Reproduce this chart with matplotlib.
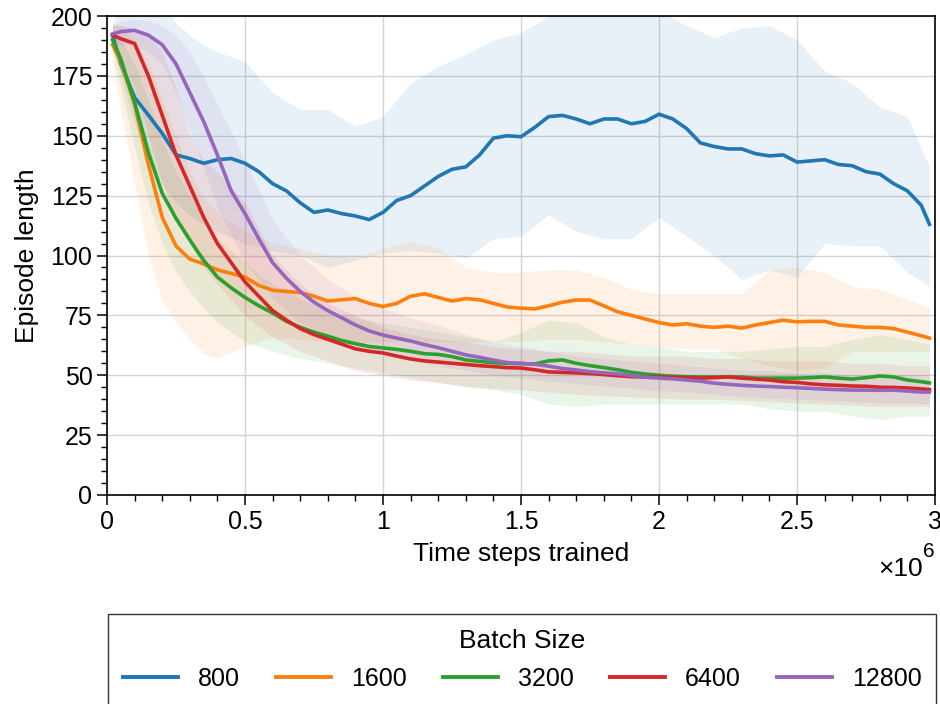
import matplotlib
matplotlib.use("Agg")
import matplotlib.pyplot as plt
import numpy as np
from matplotlib.patches import Rectangle
from matplotlib.ticker import FuncFormatter, MultipleLocator, AutoMinorLocator

plt.rcParams.update({"font.family": ["Liberation Sans", "DejaVu Sans"], "font.size": 18,
                     "mathtext.fontset": "custom", "mathtext.rm": "Liberation Sans",
                     "mathtext.it": "Liberation Sans"})

# ---- data (time steps in millions) ----
steps = [0.02, 0.05, 0.10, 0.15, 0.20, 0.25, 0.30, 0.35, 0.40, 0.45, 0.50, 0.55, 0.60, 0.65, 0.70,
         0.75, 0.80, 0.85, 0.90, 0.95, 1.00, 1.05, 1.10, 1.15, 1.20, 1.25, 1.30, 1.35, 1.40, 1.45,
         1.50, 1.55, 1.60, 1.65, 1.70, 1.75, 1.80, 1.85, 1.90, 1.95, 2.00, 2.05, 2.10, 2.15, 2.20,
         2.25, 2.30, 2.35, 2.40, 2.45, 2.50, 2.55, 2.60, 2.65, 2.70, 2.75, 2.80, 2.85, 2.90, 2.95, 2.98]

len_800 = [192, 180, 166, 158.6, 151, 142, 140.5, 138.5, 140, 140.5, 138.5, 135, 130, 127, 122,
           118, 119, 117.5, 116.5, 115, 118, 123, 125, 129, 133, 136, 137, 142, 149, 150,
           149.6, 153.5, 158, 158.5, 157, 155, 157, 157, 155, 156, 159, 157, 153, 147, 145.5,
           144.5, 144.5, 142.5, 141.6, 142, 139, 139.5, 140, 138, 137.5, 135, 134, 130, 127, 121, 113]
len_1600 = [188, 181, 163, 138, 116, 104, 98.5, 96.5, 94, 92.5, 91, 87.5, 85.5, 85, 84.5,
            83, 81, 81.5, 82, 80, 78.7, 80, 83, 84, 82.5, 81, 82, 81.5, 80, 78.5,
            78, 77.7, 79, 80.5, 81.4, 81.4, 79, 76.5, 75, 73.5, 72, 71, 71.5, 70.5, 70,
            70.5, 69.7, 71, 72, 73, 72.3, 72.5, 72.5, 71, 70.5, 70, 70, 69.5, 68, 66.5, 65.5]
len_3200 = [190, 182, 164, 143, 126, 115.5, 106.5, 98, 91, 86.5, 82.5, 79, 76, 72.5, 70,
            68, 66.3, 64.5, 63.2, 62, 61.4, 60.8, 60, 59, 58.7, 57.8, 56.4, 55.8, 55.2, 55,
            54.8, 54.7, 56, 56.4, 55, 54, 53.2, 52.3, 51.2, 50.5, 50, 49.6, 49.4, 49.3, 49.3,
            49.3, 49.3, 48.8, 48.8, 48.8, 48.8, 49, 49.3, 48.8, 48.4, 49, 49.7, 49.3, 48, 47.3, 46.8]
len_6400 = [192, 190.5, 188.5, 175, 158.6, 142, 129, 116, 105, 97, 89, 83, 77, 73, 69.5,
            67, 65, 63, 61, 60, 59.3, 58, 56.8, 56, 55.5, 55, 54.5, 54, 53.6, 53.2,
            53, 52.3, 51.4, 51.2, 51, 50.7, 50.3, 49.8, 49.4, 49.3, 49.3, 49.2, 49, 48.8, 49,
            49.3, 48.8, 48.4, 48, 47.3, 47, 46.4, 46, 45.8, 45.5, 45.4, 45, 44.9, 44.7, 44.3, 44]
len_12800 = [192.5, 193.5, 194, 192, 188, 180, 168, 156, 142, 127, 117.5, 107, 97, 90.5, 85,
             80.5, 77, 74, 71, 68.5, 66.8, 65.5, 64.3, 62.8, 61.5, 60, 58.5, 57.5, 56.3, 55.3,
             55, 54.6, 53.8, 52.8, 52.2, 51.5, 51, 50.6, 49.8, 49.2, 48.8, 48.5, 48, 47.5, 46.7,
             46.2, 45.8, 45.5, 45.3, 45, 44.8, 44.5, 44.2, 44, 43.8, 43.8, 43.7, 43.8, 43.4, 43, 43]

# spread bands (coarser grid)
band_steps = [0.02, 0.05, 0.10, 0.15, 0.20, 0.25, 0.30, 0.35, 0.40, 0.50, 0.60, 0.70, 0.80, 0.90,
              1.00, 1.10, 1.20, 1.30, 1.40, 1.50, 1.60, 1.70, 1.80, 1.90, 2.00, 2.10, 2.20, 2.30,
              2.40, 2.50, 2.60, 2.70, 2.80, 2.90, 2.98]
hi_800 = [197, 205, 210, 210, 205, 197, 192, 188, 185, 181, 168, 161, 161, 154, 158, 172, 179, 184,
          190, 193, 200, 206, 210, 208, 202, 196, 191, 195, 196, 190, 177, 172, 162, 158, 137]
lo_800 = [188, 175, 155, 140, 130, 122, 117, 113, 110, 105, 102, 100, 95, 98, 101, 102, 101, 99,
          107, 108, 117, 110, 107, 107, 116, 108, 100, 90, 94, 91, 105, 104, 104, 93, 87]
hi_1600 = [197, 196, 190, 180, 165, 150, 135, 124, 118, 110, 105, 103, 100, 99, 103, 106, 103, 95,
           93, 93, 94, 94, 91, 86, 84, 84, 84, 84, 94, 95, 93, 87, 86, 82, 78]
lo_1600 = [180, 160, 130, 100, 81, 72, 65, 59, 57, 62, 66, 65, 64, 64, 64, 64, 64, 64,
           64, 64, 65, 65, 64, 63, 62, 61, 61, 57, 54, 52, 53, 60, 60, 60, 60]
hi_3200 = [193, 190, 180, 165, 148, 135, 125, 115, 107, 97, 88, 82, 77, 74, 72, 70, 68, 66,
           64, 68, 73, 72, 66, 63, 62, 60, 60, 60, 61, 62, 62, 65, 67, 65, 63]
lo_3200 = [185, 170, 145, 122, 105, 93, 85, 78, 72, 64, 60, 57, 55, 53, 51, 49, 47, 45,
           44, 42, 38, 37, 38, 38, 38, 38, 38, 38, 36, 35, 35, 33, 31.5, 33, 33]
hi_6400 = [196, 196, 195, 192, 185, 170, 150, 140, 135, 122, 100, 88, 80, 75, 70, 67, 65, 64,
           62, 61, 60, 60, 59, 58, 58, 58, 57, 57, 56, 56, 56, 55, 55, 54, 54]
lo_6400 = [188, 183, 170, 150, 130, 115, 105, 95, 88, 75, 66, 60, 56, 52, 50, 48, 47, 45.5,
           44.5, 44, 43, 42, 41.5, 41, 40.5, 40, 40, 39.5, 39, 38.5, 38, 37.5, 37, 37, 37]
hi_12800 = [196, 198, 199, 198, 196, 192, 185, 175, 163, 140, 115, 100, 90, 83, 78, 74, 71, 67,
            64, 62, 60, 58, 57, 56, 55, 54, 53, 52, 52, 51, 51, 50, 50, 50, 49]
lo_12800 = [188, 188, 188, 185, 180, 168, 152, 137, 120, 97, 82, 72, 66, 62, 59, 56.5, 54, 52,
            50, 49, 47.5, 46.5, 45.5, 44.5, 43.5, 43, 42, 41, 40.5, 40, 39.5, 39, 38.5, 38.5, 38]

batch_sizes = ["800", "1600", "3200", "6400", "12800"]
colors = ["#1f77b4", "#ff7f0e", "#2ca02c", "#d62728", "#9467bd"]
means = [len_800, len_1600, len_3200, len_6400, len_12800]
lows = [lo_800, lo_1600, lo_3200, lo_6400, lo_12800]
highs = [hi_800, hi_1600, hi_3200, hi_6400, hi_12800]

W, H = 940, 704
fig = plt.figure(figsize=(W / 100, H / 100), dpi=100)
ax = fig.add_axes([107 / W, 1 - 495 / H, (935 - 107) / W, (495 - 16) / H])

x = np.array(steps) * 1e6
xb = np.array(band_steps) * 1e6
for lo, hi, c in zip(lows, highs, colors):
    ax.fill_between(xb, lo, hi, color=c, alpha=0.1, lw=0)
handles = []
for m, c, lab in zip(means, colors, batch_sizes):
    h, = ax.plot(x, m, color=c, lw=2.6, label=lab)
    handles.append(h)

ax.set_xlim(0, 3e6)
ax.set_ylim(0, 200)
ax.xaxis.set_major_locator(MultipleLocator(0.5e6))
ax.xaxis.set_minor_locator(AutoMinorLocator(5))
ax.yaxis.set_major_locator(MultipleLocator(25))
ax.yaxis.set_minor_locator(AutoMinorLocator(5))
ax.xaxis.set_major_formatter(FuncFormatter(lambda v, p: f"{v / 1e6:g}"))
ax.tick_params(which="major", length=7, width=1.1, direction="out", labelsize=18)
ax.tick_params(which="minor", length=4, width=1.0, direction="out")
for s in ax.spines.values():
    s.set_linewidth(1.2)
ax.grid(True, which="major", color="#d4d4d4", lw=1.0)
ax.set_axisbelow(True)
ax.set_xlabel("Time steps trained", labelpad=6, fontsize=19)
ax.set_ylabel("Episode length", labelpad=8, fontsize=19)
# exponent label, MATLAB style
ax.text(0.985, -0.13, "×10", transform=ax.transAxes, ha="right", va="top", fontsize=19)
ax.text(1.0, -0.098, "6", transform=ax.transAxes, ha="right", va="top", fontsize=15)

leg = fig.legend(handles=handles, labels=batch_sizes, title="Batch Size", ncol=5,
                 loc="upper left", bbox_to_anchor=(108 / W, 0, (936 - 108) / W, 1 - 614 / H),
                 mode="expand", frameon=False, handlelength=2.2, borderaxespad=0,
                 fontsize=18, title_fontsize=19, borderpad=0.58, labelspacing=0.56)
for lh in leg.get_lines():
    lh.set_linewidth(2.8)
# legend frame continues past the bottom edge of the picture
fig.add_artist(Rectangle((108 / W, -0.05), (936 - 108) / W, 0.05 + 1 - 614 / H,
                         transform=fig.transFigure, fill=False, ec="#333333", lw=1.0,
                         clip_on=False))

fig.savefig("out.png", dpi=100)
